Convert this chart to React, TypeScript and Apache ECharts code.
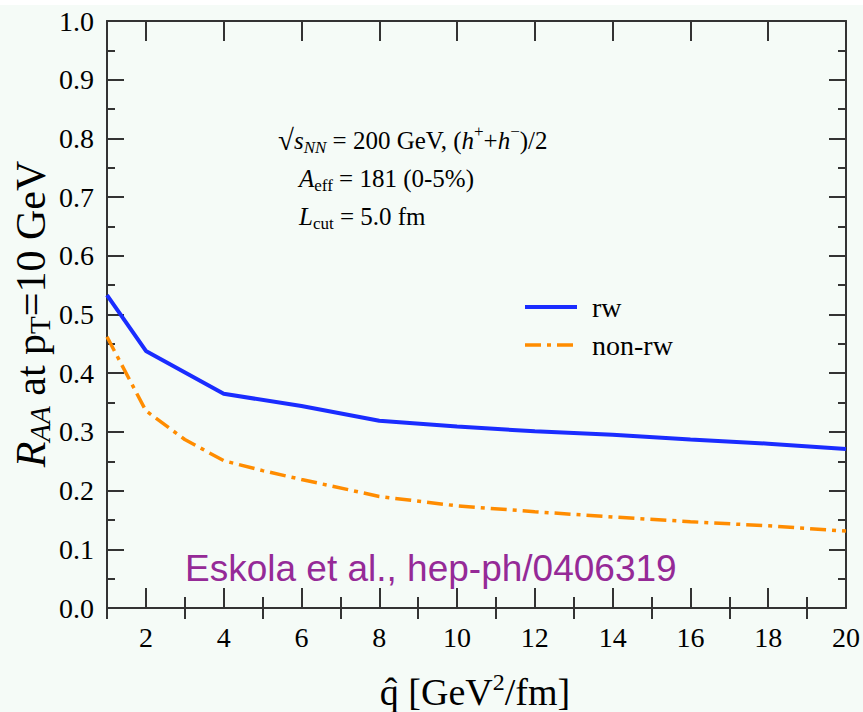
import React, { useEffect, useRef } from "react";
import * as echarts from "echarts";

const xRw = [1, 2, 4, 6, 8, 10, 12, 14, 16, 18, 20];
const rwValues = [0.533, 0.438, 0.365, 0.344, 0.319, 0.309, 0.301, 0.295, 0.287, 0.28, 0.271];
const xNonRw = [1, 2, 3, 4, 5, 6, 8, 10, 12, 14, 16, 18, 20];
const nonRwValues = [0.462, 0.336, 0.287, 0.251, 0.234, 0.219, 0.19, 0.174, 0.164, 0.155, 0.147, 0.14, 0.131];
const seriesNames = ["rw", "non-rw"];
const xMajorTicks = [2, 4, 6, 8, 10, 12, 14, 16, 18, 20];
const xMinorTicks = [1, 3, 5, 7, 9, 11, 13, 15, 17, 19];
const citation = "Eskola et al., hep-ph/0406319";

const SERIF = "'Liberation Serif', 'Times New Roman', serif";
const AX = "#333333";
const BLUE = "#1a2cff";
const ORANGE = "#ff8c00";
const ORANGE_DASH = [16, 6, 4, 6];

export default function App() {
  const ref = useRef<HTMLDivElement>(null);
  useEffect(() => {
    document.body.style.margin = "0";
    const chart = echarts.init(ref.current!, null, { renderer: "svg" });
    const lineStyle = { color: AX, width: 2 };
    const xBase = {
      type: "value",
      min: 1,
      max: 20,
      splitLine: { show: false },
    };
    const yBase = {
      type: "value",
      min: 0,
      max: 1,
      interval: 0.1,
      splitLine: { show: false },
      minorSplitLine: { show: false },
    };
    const n = { fontSize: 25, fontFamily: SERIF, color: "#000", verticalAlign: "middle" };
    const it = { ...n, fontStyle: "italic" };
    const root = { ...n, fontSize: 29 };
    const sub = { fontSize: 17, fontFamily: SERIF, fontStyle: "italic", color: "#000", padding: [14, 0, 0, 0], verticalAlign: "middle" };
    const subN = { ...sub, fontStyle: "normal" };
    const sup = { fontSize: 17, fontFamily: SERIF, color: "#000", padding: [0, 0, 18, 0], verticalAlign: "middle" };

    const option: any = {
      animation: false,
      backgroundColor: "#f5fbf7",
      grid: { left: 107, right: 17, top: 21, bottom: 104, outerBoundsMode: "none", containLabel: false },
      xAxis: [
        {
          ...xBase,
          position: "bottom",
          axisLine: { show: true, onZero: false, lineStyle },
          axisTick: { show: true, inside: true, length: 20, customValues: xMajorTicks, lineStyle },
          axisLabel: { customValues: xMajorTicks, fontFamily: SERIF, fontSize: 28, color: "#000", margin: 15 },
        },
        {
          ...xBase,
          position: "bottom",
          axisLine: { show: false },
          axisTick: { show: true, inside: true, length: 11, customValues: xMinorTicks, lineStyle },
          axisLabel: { show: false },
        },
        {
          ...xBase,
          position: "top",
          axisLine: { show: true, onZero: false, lineStyle },
          axisTick: { show: true, inside: true, length: 20, customValues: xMajorTicks, lineStyle },
          axisLabel: { show: false },
        },
        {
          ...xBase,
          position: "top",
          axisLine: { show: false },
          axisTick: { show: true, inside: true, length: 11, customValues: xMinorTicks, lineStyle },
          axisLabel: { show: false },
        },
      ],
      yAxis: [
        {
          ...yBase,
          position: "left",
          axisLine: { show: true, onZero: false, lineStyle },
          axisTick: { show: true, inside: true, length: 17, lineStyle },
          minorTick: { show: true, splitNumber: 2, length: 8, lineStyle },
          axisLabel: {
            fontFamily: SERIF,
            fontSize: 28,
            color: "#000",
            margin: 13,
            formatter: (v: number) => v.toFixed(1),
          },
        },
        {
          ...yBase,
          position: "right",
          axisLine: { show: true, onZero: false, lineStyle },
          axisTick: { show: true, inside: true, length: 17, lineStyle },
          minorTick: { show: true, splitNumber: 2, length: 8, lineStyle },
          axisLabel: { show: false },
        },
      ],
      series: [
        {
          name: seriesNames[0],
          type: "line",
          xAxisIndex: 0,
          yAxisIndex: 0,
          showSymbol: false,
          symbol: "none",
          data: xRw.map((x, i) => [x, rwValues[i]]),
          lineStyle: { color: BLUE, width: 4 },
          itemStyle: { color: BLUE },
          z: 3,
        },
        {
          name: seriesNames[1],
          type: "line",
          xAxisIndex: 0,
          yAxisIndex: 0,
          showSymbol: false,
          symbol: "none",
          data: xNonRw.map((x, i) => [x, nonRwValues[i]]),
          lineStyle: { color: ORANGE, width: 3.5, type: ORANGE_DASH },
          itemStyle: { color: ORANGE },
          z: 3,
        },
      ],
      graphic: [
        { type: "rect", left: 0, top: 0, z: -10, shape: { width: 863, height: 5 }, style: { fill: "#ffffff" } },
        // legend
        { type: "line", shape: { x1: 525, y1: 307, x2: 577, y2: 307 }, style: { stroke: BLUE, lineWidth: 4 } },
        { type: "line", shape: { x1: 525, y1: 345, x2: 577, y2: 345 }, style: { stroke: ORANGE, lineWidth: 3.5, lineDash: ORANGE_DASH } },
        {
          type: "text",
          x: 592,
          y: 307,
          style: { text: seriesNames[0], fontFamily: SERIF, fontSize: 28, fill: "#000", verticalAlign: "middle" },
        },
        {
          type: "text",
          x: 592,
          y: 345,
          style: { text: seriesNames[1], fontFamily: SERIF, fontSize: 28, fill: "#000", verticalAlign: "middle" },
        },
        {
          type: "text",
          x: 278,
          y: 140,
          style: {
            text: "{r|√}{i|s}{sub|NN}{n| = 200 GeV, (}{i|h}{sup|+}{n|+}{i|h}{sup|−}{n|)/2}",
            verticalAlign: "middle",
            rich: { n, r: root, i: it, sub, sup },
          },
        },
        {
          type: "text",
          x: 299,
          y: 178,
          style: {
            text: "{i|A}{sub|eff}{n| = 181 (0-5%)}",
            verticalAlign: "middle",
            rich: { n, i: it, sub: subN },
          },
        },
        {
          type: "text",
          x: 299,
          y: 216,
          style: {
            text: "{i|L}{sub|cut}{n| = 5.0 fm}",
            verticalAlign: "middle",
            rich: { n, i: it, sub: subN },
          },
        },
        {
          type: "text",
          x: 185,
          y: 568,
          style: {
            text: citation,
            fontFamily: "'Liberation Sans', Arial, sans-serif",
            fontSize: 37,
            fill: "#952a97",
            verticalAlign: "middle",
          },
        },
        {
          type: "text",
          x: 475,
          y: 692,
          style: {
            text: "{n|q\u0302 [GeV}{sup|2}{n|/fm]}",
            align: "center",
            verticalAlign: "middle",
            rich: {
              n: { fontSize: 38, fontFamily: SERIF, color: "#000", verticalAlign: "middle" },
              sup: { fontSize: 24, fontFamily: SERIF, color: "#000", padding: [0, 0, 20, 0], verticalAlign: "middle" },
            },
          },
        },
        {
          type: "text",
          x: 31,
          y: 314,
          rotation: Math.PI / 2,
          style: {
            text: "{i|R}{sub|AA}{n| at p}{subn|T}{n|=10 GeV}",
            align: "center",
            verticalAlign: "middle",
            rich: {
              n: { fontSize: 42, fontFamily: SERIF, color: "#000", verticalAlign: "middle" },
              i: { fontSize: 42, fontFamily: SERIF, fontStyle: "italic", color: "#000", verticalAlign: "middle" },
              sub: { fontSize: 29, fontFamily: SERIF, fontStyle: "italic", color: "#000", padding: [18, 0, 0, 0], verticalAlign: "middle" },
              subn: { fontSize: 29, fontFamily: SERIF, color: "#000", padding: [18, 0, 0, 0], verticalAlign: "middle" },
            },
          },
        },
      ],
    };
    chart.setOption(option);
    return () => chart.dispose();
  }, []);
  return <div ref={ref} style={{ width: 863, height: 712 }} />;
}
